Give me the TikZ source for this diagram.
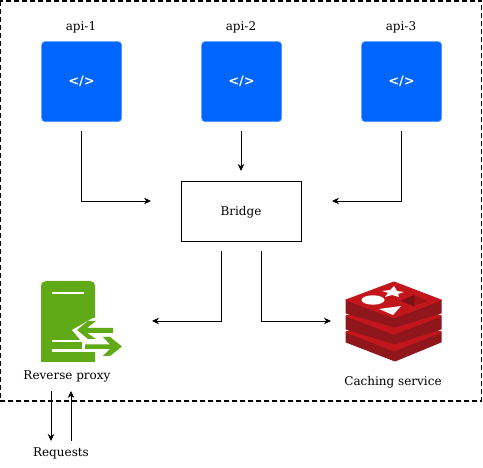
\documentclass[tikz,border=0pt]{standalone}
\usepackage{fontspec}
\setmainfont{DejaVu Serif}
\newfontfamily\iconfont{DejaVu Sans}
\usetikzlibrary{arrows.meta}
\definecolor{apiblue}{HTML}{0066FF}
\definecolor{apiedge}{HTML}{4D94FF}
\definecolor{proxyfill}{HTML}{60A917}
\definecolor{redistop}{HTML}{C2161C}
\definecolor{redisside}{HTML}{8F161B}
\definecolor{redishole}{HTML}{7A1214}
\definecolor{redishole2}{HTML}{9A1418}
\tikzset{
  lbl/.style={font=\fontsize{12}{14}\selectfont, text=black, inner sep=0pt},
  apibox/.style={draw=apiedge, fill=apiblue, line width=0.6pt, rounded corners=3.5pt, minimum width=80pt, minimum height=80pt, inner sep=0pt, text=white, font=\iconfont\bfseries\fontsize{13}{15}\selectfont},
  conn/.style={draw=black, line width=0.8pt, -{Stealth[length=7pt,width=6.5pt]}},
  bridgebox/.style={draw=black, line width=0.8pt, minimum width=120pt, minimum height=60pt, inner sep=0pt},
  whiteline/.style={draw=white, line width=2.2pt},
  redtop/.style={fill=redistop, draw=redistop, line width=1pt, line join=round},
  redside/.style={fill=redisside, draw=redisside, line width=1pt, line join=round}
}
\begin{document}
\begin{tikzpicture}[x=1pt,y=-1pt]
\useasboundingbox (0,0) rectangle (483,468);
\begin{scope}
\clip (0,0) rectangle (483,468);
\draw[black, line width=1.8pt, dash pattern=on 5pt off 3pt] (0.2,1) rectangle (481.5,401);
\end{scope}

\node[apibox] (api1) at (81.6,81.6) {</>};
\node[apibox] (api2) at (241.6,81.6) {</>};
\node[apibox] (api3) at (401.6,81.6) {</>};
\node[lbl] (t1) at (81,27) {api-1};
\node[lbl] (t2) at (241,27) {api-2};
\node[lbl] (t3) at (401,27) {api-3};

\node[bridgebox] (bridge) at (241,211) {};
\node[lbl] (bridgetext) at (241,212) {Bridge};

% proxy icon
\fill[proxyfill] (41,362) -- (41,287) .. controls (41,283) and (43,281) .. (46,281) -- (90,281) .. controls (93,281) and (95,283) .. (95,287) -- (95,362) -- cycle;
\draw[whiteline] (52,293) -- (84,293);
\fill[white] (96,318) -- (93,318) -- (72,330) -- (82,342) -- (82,350) -- (96,350) -- cycle;
\draw[whiteline] (52,341) -- (82,341);
\draw[whiteline] (52,350.5) -- (96,350.5);
\fill[proxyfill] (88,321) -- (96,321) -- (87,328) -- (113,328) -- (113,333) -- (87,333) -- (96,339) -- (88,339) -- (77,330) -- cycle;
\fill[proxyfill] (103,337) -- (110,337) -- (122,346.5) -- (110,356) -- (103,356) -- (110,349) -- (85,349) -- (85,344.5) -- (110,344.5) -- cycle;
\node[lbl] (proxy) at (67,376) {Reverse proxy};

% redis icon
\fill[redside] (346,332) -- (346,342) -- (395,361) -- (441,342) -- (441,332) -- cycle;
\fill[redtop] (346,332) -- (394,314) -- (441,332) -- (394,351) -- cycle;
\fill[redside] (346,316) -- (346,329) -- (395,344) -- (441,329) -- (441,316) -- cycle;
\fill[redtop] (346,316) -- (394,298) -- (441,316) -- (394,334) -- cycle;
\fill[redside] (346,300) -- (346,313) -- (395,327) -- (441,313) -- (441,300) -- cycle;
\fill[redtop] (346,300) -- (394,282) -- (441,300) -- (394,318) -- cycle;
\fill[redishole2] (401,301) -- (414,295) -- (427,301) -- (414,306) -- cycle;
\fill[redishole] (401,301) -- (414,295) -- (414,306) -- cycle;
\fill[white] (394,286) -- (397,291) -- (404,292) -- (398,294) -- (399,297) -- (392,295) -- (385,297) -- (388,293) -- (382,291) -- (390,290) -- cycle;
\fill[white] (373,300) ellipse (11.5pt and 4.7pt);
\fill[white] (379,309) -- (401,306) -- (393,315) -- cycle;
\node[lbl] (cache) at (393,382) {Caching service};

\node[lbl] (req) at (61,453.5) {Requests};

% connectors
\coordinate (e1) at (151,201);
\coordinate (e3) at (332,201);
\coordinate (e2) at (241,171);
\coordinate (e4) at (152,321);
\coordinate (e5) at (331,321);
\coordinate (bl) at (221,251);
\coordinate (br) at (261,251);
\coordinate (a1s) at (81,131);
\coordinate (a2s) at (241,131);
\coordinate (a3s) at (401,131);
\coordinate (up1) at (51,391);
\coordinate (up2) at (51,441);
\coordinate (dn1) at (71,441);
\coordinate (dn2) at (71,391);
\draw[conn] (a1s) |- (e1);
\draw[conn] (a2s) -- (e2);
\draw[conn] (a3s) |- (e3);
\draw[conn] (bl) |- (e4);
\draw[conn] (br) |- (e5);
\draw[conn] (up1) -- (up2);
\draw[conn] (dn1) -- (dn2);
\end{tikzpicture}
\end{document}
